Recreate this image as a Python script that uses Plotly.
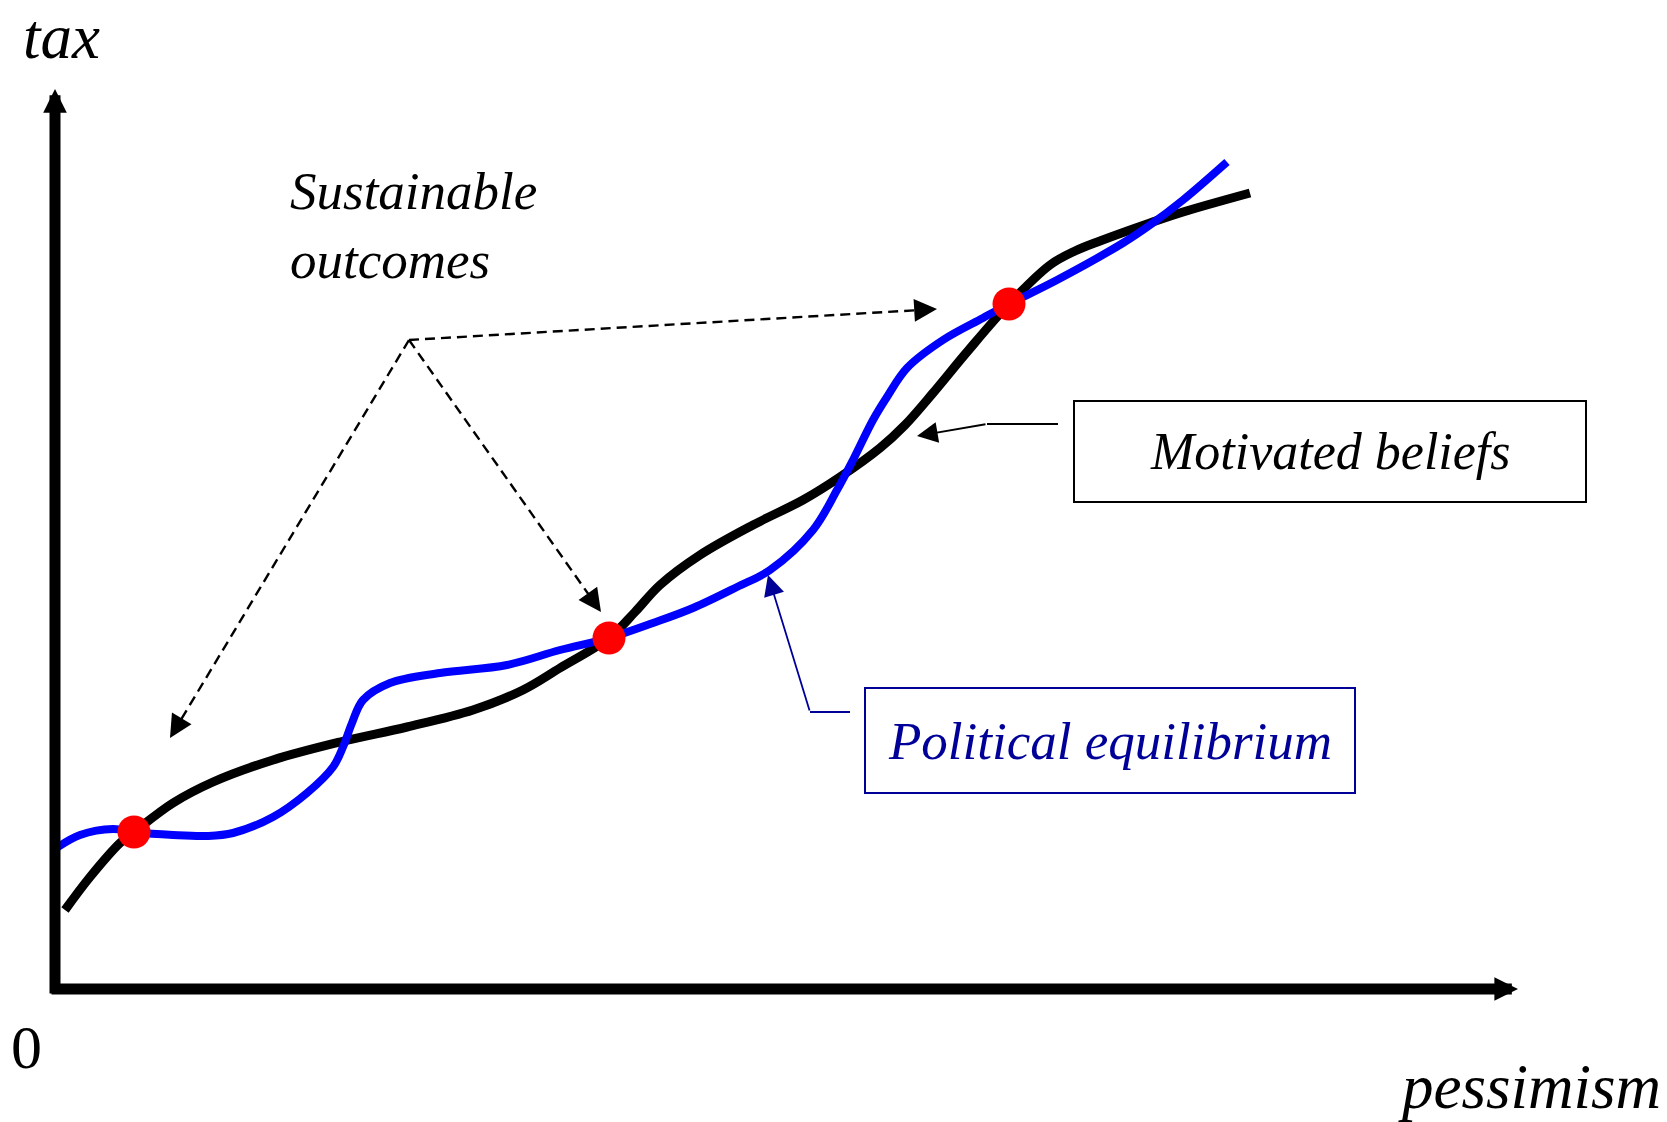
import plotly.graph_objects as go

# ---------------- data (pessimism, tax) ----------------
belief_x = [0.10, 0.35, 0.65, 0.79, 1.18, 1.58, 2.18, 2.85, 3.52, 4.18, 4.68, 5.05, 5.54,
            5.80, 6.05, 6.45, 6.98, 7.48, 7.85, 8.25, 8.50, 8.78, 9.12, 9.54, 9.95, 10.20,
            10.45, 10.95, 11.28, 11.95]
belief_y = [0.79, 1.12, 1.46, 1.57, 1.86, 2.07, 2.29, 2.47, 2.62, 2.79, 2.99, 3.21, 3.51,
            3.77, 4.04, 4.34, 4.64, 4.89, 5.12, 5.41, 5.64, 5.96, 6.37, 6.85, 7.24, 7.38,
            7.48, 7.66, 7.77, 7.96]

equil_x = [0.03, 0.25, 0.58, 0.79, 1.18, 1.52, 1.78, 2.18, 2.52, 2.78, 2.88, 2.97, 3.08,
           3.35, 3.85, 4.52, 5.05, 5.54, 5.98, 6.38, 6.82, 7.15, 7.58, 7.82, 7.98, 8.18,
           8.32, 8.52, 8.88, 9.28, 9.54, 10.02, 10.68, 10.95, 11.28, 11.72]
equil_y = [1.42, 1.54, 1.60, 1.57, 1.54, 1.53, 1.56, 1.72, 1.96, 2.22, 2.42, 2.66, 2.89,
           3.06, 3.16, 3.24, 3.39, 3.51, 3.66, 3.81, 4.02, 4.19, 4.59, 4.99, 5.29, 5.69,
           5.92, 6.21, 6.49, 6.71, 6.85, 7.09, 7.46, 7.64, 7.89, 8.27]

sustainable_x = [0.79, 5.54, 9.54]
sustainable_y = [1.57, 3.51, 6.85]

# dashed pointer: common origin and the three targets
pointer_origin = (3.54, 6.49)
pointer_tips_x = [1.15, 5.46, 8.82]
pointer_tips_y = [2.51, 3.77, 6.80]

# label boxes and their callout elbows
mb_box = dict(x0=10.19, x1=15.31, y0=4.87, y1=5.88)
mb_callout_x = [10.03, 9.32, 8.62]
mb_callout_y = [5.65, 5.65, 5.53]
pe_box = dict(x0=8.10, x1=13.00, y0=1.96, y1=3.01)
pe_callout_x = [7.95, 7.55, 7.13]
pe_callout_y = [2.77, 2.77, 4.14]

# axes
x_axis_end = 14.63
y_axis_end = 9.00

X_RANGE = [-0.55, 16.12]
Y_RANGE = [-1.33, 9.89]

FONT = "Liberation Serif, Times New Roman, serif"
NAVY = "#000099"

fig = go.Figure()

fig.add_trace(go.Scatter(x=belief_x, y=belief_y, mode="lines",
                         line=dict(color="black", width=9, shape="spline", smoothing=1.0),
                         hoverinfo="skip"))
fig.add_trace(go.Scatter(x=equil_x, y=equil_y, mode="lines",
                         line=dict(color="#0000FF", width=8, shape="spline", smoothing=1.0),
                         hoverinfo="skip"))
fig.add_trace(go.Scatter(x=sustainable_x, y=sustainable_y, mode="markers",
                         marker=dict(color="#FF0000", size=33, line=dict(width=0)),
                         hoverinfo="skip"))

shapes = []
annotations = []

# axes with arrowheads
annotations.append(dict(x=x_axis_end, y=0, ax=-0.05, ay=0, xref="x", yref="y", axref="x", ayref="y",
                        text="", showarrow=True, arrowhead=2, arrowwidth=11, arrowsize=0.43,
                        arrowcolor="black", standoff=0))
annotations.append(dict(x=0, y=y_axis_end, ax=0, ay=-0.06, xref="x", yref="y", axref="x", ayref="y",
                        text="", showarrow=True, arrowhead=2, arrowwidth=11, arrowsize=0.43,
                        arrowcolor="black", standoff=0))

# dashed pointers
ox, oy = pointer_origin
for tx, ty in zip(pointer_tips_x, pointer_tips_y):
    dx, dy = tx - ox, ty - oy
    L = (dx ** 2 + dy ** 2) ** 0.5
    ux, uy = dx / L, dy / L
    shapes.append(dict(type="line", x0=ox, y0=oy, x1=tx - ux * 0.14, y1=ty - uy * 0.14,
                       xref="x", yref="y", line=dict(color="black", width=2.4, dash="10px,6px")))
    annotations.append(dict(x=tx, y=ty, ax=tx - ux * 0.18, ay=ty - uy * 0.18,
                            xref="x", yref="y", axref="x", ayref="y", text="",
                            showarrow=True, arrowhead=2, arrowwidth=2.4, arrowsize=1.9,
                            arrowcolor="black", standoff=0))

# callouts
for cx, cy, col in [(mb_callout_x, mb_callout_y, "black"), (pe_callout_x, pe_callout_y, NAVY)]:
    shapes.append(dict(type="line", x0=cx[0], y0=cy[0], x1=cx[1], y1=cy[1], xref="x", yref="y",
                       line=dict(color=col, width=1.8)))
    annotations.append(dict(x=cx[2], y=cy[2], ax=cx[1], ay=cy[1], xref="x", yref="y",
                            axref="x", ayref="y", text="", showarrow=True, arrowhead=2,
                            arrowwidth=1.8, arrowsize=2.3, arrowcolor=col, standoff=0))

# boxes
shapes.append(dict(type="rect", xref="x", yref="y", **mb_box, line=dict(color="black", width=2),
                   fillcolor="rgba(0,0,0,0)"))
shapes.append(dict(type="rect", xref="x", yref="y", **pe_box, line=dict(color=NAVY, width=2),
                   fillcolor="rgba(0,0,0,0)"))

annotations.append(dict(x=(mb_box["x0"] + mb_box["x1"]) / 2, y=(mb_box["y0"] + mb_box["y1"]) / 2,
                        xref="x", yref="y", text="<i>Motivated beliefs</i>", showarrow=False,
                        font=dict(family=FONT, size=52, color="black")))
annotations.append(dict(x=(pe_box["x0"] + pe_box["x1"]) / 2, y=(pe_box["y0"] + pe_box["y1"]) / 2,
                        xref="x", yref="y", text="<i>Political equilibrium</i>", showarrow=False,
                        font=dict(family=FONT, size=53, color=NAVY)))

# other texts
annotations.append(dict(x=2.33, y=7.64, xref="x", yref="y", xanchor="left", yanchor="middle",
                        align="left", text="<i>Sustainable<br>outcomes</i>", showarrow=False,
                        font=dict(family=FONT, size=53, color="black")))
annotations.append(dict(x=0.06, y=Y_RANGE[1], xref="x", yref="y", yanchor="top", text="<i>tax</i>",
                        showarrow=False, font=dict(family=FONT, size=63, color="black")))
annotations.append(dict(x=16.08, y=-0.98, xref="x", yref="y", xanchor="right",
                        text="<i>pessimism</i>", showarrow=False,
                        font=dict(family=FONT, size=63, color="black")))
annotations.append(dict(x=-0.29, y=-0.58, xref="x", yref="y", text="0", showarrow=False,
                        font=dict(family=FONT, size=62, color="black")))

fig.update_layout(
    width=1667, height=1122,
    margin=dict(l=0, r=0, t=0, b=0),
    paper_bgcolor="white", plot_bgcolor="white",
    showlegend=False, hovermode=False,
    xaxis=dict(range=X_RANGE, visible=False, fixedrange=True),
    yaxis=dict(range=Y_RANGE, visible=False, fixedrange=True),
    shapes=shapes, annotations=annotations,
)

fig.write_html("out.html", config={"displayModeBar": False},
               post_script="document.body.style.margin='0';")
